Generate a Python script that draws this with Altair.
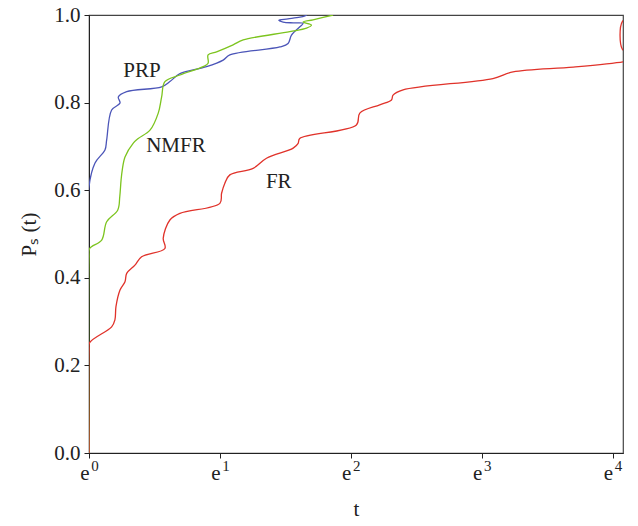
import altair as alt
import pandas as pd

# x values are ln(t); y values are P_s(t)
prp_x = [0, 0, 0.046, 0.122, 0.135, 0.173, 0.237, 0.224, 0.288, 0.555, 0.618, 0.695, 0.898,
         1.025, 1.076, 1.458, 1.521, 1.547, 1.611, 1.636, 1.56, 1.483, 1.45, 1.52, 1.611, 1.65, 1.664]
prp_y = [0, 0.608, 0.662, 0.692, 0.715, 0.783, 0.799, 0.813, 0.825, 0.836, 0.848, 0.866, 0.882,
         0.897, 0.909, 0.927, 0.935, 0.954, 0.973, 0.981, 0.982, 0.984, 0.988, 0.991, 0.995, 0.998, 1.0]

nmfr_x = [0, 0, 0.005, 0.097, 0.135, 0.22, 0.235, 0.245, 0.254, 0.275, 0.337, 0.376, 0.466, 0.529,
          0.555, 0.58, 0.695, 0.872, 0.91, 0.91, 0.975, 1.101, 1.178, 1.534, 1.662, 1.70, 1.636,
          1.712, 1.865]
nmfr_y = [0, 0.448, 0.467, 0.486, 0.528, 0.555, 0.585, 0.623, 0.646, 0.676, 0.707, 0.718, 0.737,
          0.776, 0.813, 0.848, 0.863, 0.882, 0.890, 0.909, 0.916, 0.932, 0.943, 0.962, 0.970, 0.977,
          0.984, 0.989, 1.0]

fr_x = [0, 0, 0.005, 0.173, 0.198, 0.206, 0.237, 0.275, 0.288, 0.351, 0.402, 0.58, 0.567, 0.618,
        0.695, 1.0, 1.013, 1.038, 1.076, 1.254, 1.356, 1.56, 1.598, 1.61, 2.043, 2.069, 2.221,
        2.311, 2.323, 2.4, 3.086, 3.24, 3.7, 4.08, 4.14, 4.14, 4.075, 4.075, 4.14, 4.14]
fr_y = [0, 0.235, 0.252, 0.288, 0.304, 0.334, 0.372, 0.391, 0.410, 0.429, 0.448, 0.467, 0.490,
        0.532, 0.547, 0.570, 0.593, 0.616, 0.635, 0.650, 0.673, 0.696, 0.707, 0.718, 0.749, 0.776,
        0.795, 0.806, 0.817, 0.829, 0.855, 0.870, 0.881, 0.893, 0.897, 0.912, 0.922, 0.985, 0.993, 1.0]

series = ["PRP", "NMFR", "FR"]
colors = ["#4b55b8", "#7cc41e", "#e0322a"]

label_text = ["PRP", "NMFR", "FR"]
label_x = [0.405, 0.664, 1.45]
label_y = [0.872, 0.701, 0.619]

x_ticks = [0, 1, 2, 3, 4]
x_tick_base = ["e", "e", "e", "e", "e"]
x_tick_exp = ["0", "1", "2", "3", "4"]

rows = []
for name, xs, ys in [("PRP", prp_x, prp_y), ("NMFR", nmfr_x, nmfr_y), ("FR", fr_x, fr_y)]:
    for i, (a, b) in enumerate(zip(xs, ys)):
        rows.append({"series": name, "lt": a, "p": b, "order": i})
df = pd.DataFrame(rows)
lab = pd.DataFrame({"text": label_text, "lt": label_x, "p": label_y})
ticks = pd.DataFrame({"lt": x_ticks, "base": x_tick_base, "exp": x_tick_exp})

font = "Liberation Serif"
fs = 21
xscale = alt.Scale(domain=[0, 4.08], nice=False, zero=False)
yscale = alt.Scale(domain=[0, 1], nice=False)

lines = alt.Chart(df).mark_line(strokeWidth=1.3, clip=True, interpolate="catmull-rom").encode(
    x=alt.X("lt:Q", scale=xscale,
            axis=alt.Axis(title="t", values=x_ticks, labels=False,
                          titleFont=font, titleFontSize=fs, titleFontWeight="normal",
                          titleColor="#222", titlePadding=40,
                          tickSize=5, tickColor="#222", domainColor="#222", grid=False)),
    y=alt.Y("p:Q", scale=yscale,
            axis=alt.Axis(title="Pₛ (t)", values=[0, 0.2, 0.4, 0.6, 0.8, 1.0], format=".1f",
                          labelFont=font, labelFontSize=fs, labelColor="#222",
                          titleFont=font, titleFontSize=fs, titleFontWeight="normal",
                          titleColor="#222", titlePadding=14,
                          tickSize=5, tickColor="#222", domainColor="#222",
                          labelPadding=4, grid=False)),
    color=alt.Color("series:N", scale=alt.Scale(domain=series, range=colors), legend=None),
    order="order:Q",
    detail="series:N",
)

texts = alt.Chart(lab).mark_text(font=font, fontSize=fs, color="#222").encode(
    x=alt.X("lt:Q", scale=xscale),
    y=alt.Y("p:Q", scale=yscale),
    text="text:N",
)

tick_base = alt.Chart(ticks).mark_text(font=font, fontSize=fs, color="#222", dx=-4,
                                       baseline="alphabetic").encode(
    x=alt.X("lt:Q", scale=xscale),
    y=alt.value(438 + 27),
    text="base:N",
)
tick_exp = alt.Chart(ticks).mark_text(font=font, fontSize=15, color="#222", dx=6,
                                      baseline="alphabetic").encode(
    x=alt.X("lt:Q", scale=xscale),
    y=alt.value(438 + 18),
    text="exp:N",
)

chart = alt.layer(lines, texts, tick_base, tick_exp).properties(
    width=534, height=438,
    autosize=alt.AutoSizeParams(type="none"),
    padding={"left": 89, "top": 15, "right": 15, "bottom": 73},
).configure_view(stroke="#444", strokeWidth=1.2)

chart.save("out.html", embed_options={"renderer": "svg", "actions": False})
